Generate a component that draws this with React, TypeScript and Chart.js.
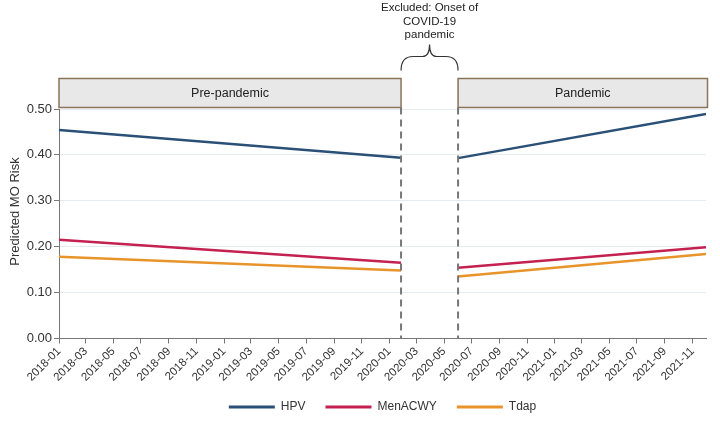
import React, { useEffect, useRef } from "react";
import { Chart, registerables } from "chart.js";

Chart.register(...registerables);

// ---------- data ----------
const seriesNames = ["HPV", "MenACWY", "Tdap"];
const seriesColors = ["#2b5077", "#c52150", "#e8942b"];
const preDates = ["2018-01-01", "2020-01-27"];
const pandemicDates = ["2020-06-01", "2021-12-01"];
const hpvPre = [0.454, 0.394];
const hpvPandemic = [0.393, 0.489];
const menacwyPre = [0.215, 0.165];
const menacwyPandemic = [0.154, 0.199];
const tdapPre = [0.178, 0.148];
const tdapPandemic = [0.135, 0.184];
const xTickLabels = [
  "2018-01", "2018-03", "2018-05", "2018-07", "2018-09", "2018-11",
  "2019-01", "2019-03", "2019-05", "2019-07", "2019-09", "2019-11",
  "2020-01", "2020-03", "2020-05", "2020-07", "2020-09", "2020-11",
  "2021-01", "2021-03", "2021-05", "2021-07", "2021-09", "2021-11",
];
const yTickValues = [0, 0.1, 0.2, 0.3, 0.4, 0.5];
const periodLabels = ["Pre-pandemic", "Pandemic"];
const excludedLabel = ["Excluded: Onset of", "COVID-19", "pandemic"];
const yTitle = "Predicted MO Risk";

const FONT = "'Liberation Sans', Arial, Helvetica, sans-serif";

const toDay = (s: string) => {
  const [y, m, d] = s.split("-").map(Number);
  return (Date.UTC(y, m - 1, d || 1) - Date.UTC(2018, 0, 1)) / 86400000;
};

const seriesPairs = [
  [hpvPre, hpvPandemic],
  [menacwyPre, menacwyPandemic],
  [tdapPre, tdapPandemic],
];

const annotationPlugin = {
  id: "periodAnnotations",
  afterDraw(chart: any) {
    const { ctx, chartArea } = chart;
    const xs = chart.scales.x;
    const ys = chart.scales.y;
    const xPreStart = xs.getPixelForValue(toDay(preDates[0]));
    const xPreEnd = xs.getPixelForValue(toDay(preDates[1]));
    const xPanStart = xs.getPixelForValue(toDay(pandemicDates[0]));
    const xPanEnd = xs.getPixelForValue(toDay(pandemicDates[1]));
    const boxBottom = ys.top - 1.5;
    const boxTop = ys.top - 30.5;
    ctx.save();
    // header boxes
    const boxes = [
      [xPreStart, xPreEnd, periodLabels[0]],
      [xPanStart, xPanEnd + 1.5, periodLabels[1]],
    ] as [number, number, string][];
    for (const [a, b, label] of boxes) {
      ctx.fillStyle = "#e8e8e8";
      ctx.fillRect(a, boxTop, b - a, boxBottom - boxTop);
      ctx.strokeStyle = "#8b735b";
      ctx.lineWidth = 1.5;
      ctx.strokeRect(a, boxTop, b - a, boxBottom - boxTop);
      ctx.fillStyle = "#222";
      ctx.font = `12.5px ${FONT}`;
      ctx.textAlign = "center";
      ctx.textBaseline = "middle";
      ctx.fillText(label, (a + b) / 2, (boxTop + boxBottom) / 2 + 0.5);
    }
    // dashed separators
    ctx.strokeStyle = "#777";
    ctx.lineWidth = 2;
    ctx.setLineDash([7, 5]);
    for (const x of [xPreEnd, xPanStart]) {
      ctx.beginPath();
      ctx.moveTo(x, boxBottom);
      ctx.lineTo(x, chartArea.bottom);
      ctx.stroke();
    }
    ctx.setLineDash([]);
    // brace
    const cx = (xPreEnd + xPanStart) / 2;
    const yb = boxTop - 8;
    const ym = yb - 14;
    const yt = yb - 26;
    ctx.strokeStyle = "#333";
    ctx.lineWidth = 1.2;
    ctx.beginPath();
    ctx.moveTo(xPreEnd, yb);
    ctx.quadraticCurveTo(xPreEnd, ym, xPreEnd + 12, ym);
    ctx.lineTo(cx - 7, ym);
    ctx.quadraticCurveTo(cx, ym, cx, yt);
    ctx.quadraticCurveTo(cx, ym, cx + 7, ym);
    ctx.lineTo(xPanStart - 12, ym);
    ctx.quadraticCurveTo(xPanStart, ym, xPanStart, yb);
    ctx.stroke();
    // excluded text
    ctx.fillStyle = "#222";
    ctx.font = `11.5px ${FONT}`;
    ctx.textAlign = "center";
    ctx.textBaseline = "alphabetic";
    excludedLabel.forEach((t, i) => ctx.fillText(t, cx, 11 + i * 13.5));
    // y title
    ctx.translate(15.5, (boxTop + chartArea.bottom) / 2 + 3);
    ctx.rotate(-Math.PI / 2);
    ctx.font = `13px ${FONT}`;
    ctx.fillStyle = "#333";
    ctx.textAlign = "center";
    ctx.textBaseline = "middle";
    ctx.fillText(yTitle, 0, 0);
    ctx.restore();
  },
};

export default function App() {
  const canvasRef = useRef<HTMLCanvasElement | null>(null);

  useEffect(() => {
    if (!canvasRef.current) return;
    const datasets = seriesNames.map((name, i) => {
      const [pre, pan] = seriesPairs[i];
      return {
        label: name,
        data: [
          { x: toDay(preDates[0]), y: pre[0] },
          { x: toDay(preDates[1]), y: pre[1] },
          { x: (toDay(preDates[1]) + toDay(pandemicDates[0])) / 2, y: null },
          { x: toDay(pandemicDates[0]), y: pan[0] },
          { x: toDay(pandemicDates[1]), y: pan[1] },
        ],
        borderColor: seriesColors[i],
        backgroundColor: seriesColors[i],
        borderWidth: 2.5,
        pointRadius: 0,
        tension: 0,
        spanGaps: false,
      };
    });
    const chart = new Chart(canvasRef.current, {
      type: "line",
      data: { datasets } as any,
      options: {
        animation: false,
        responsive: false,
        devicePixelRatio: 1,
        layout: { padding: { top: 109, right: 14, bottom: 0, left: 0 } },
        plugins: {
          tooltip: { enabled: false },
          legend: {
            position: "bottom",
            fullSize: false,
            labels: {
              boxWidth: 46,
              boxHeight: 3,
              padding: 20,
              color: "#333",
              font: { family: FONT, size: 12 },
              generateLabels: (chart: any) =>
                (Chart.defaults.plugins.legend.labels as any)
                  .generateLabels(chart)
                  .map((l: any) => ({ ...l, lineWidth: 0 })),
            },
          },
        },
        scales: {
          x: {
            type: "linear",
            min: toDay("2018-01-01"),
            max: toDay(pandemicDates[1]),
            afterBuildTicks: (scale: any) => {
              scale.ticks = xTickLabels.map((l) => ({ value: toDay(l) }));
            },
            afterFit: (scale: any) => {
              scale.height = 42.5;
            },
            ticks: {
              autoSkip: false,
              minRotation: 45,
              maxRotation: 45,
              padding: 1,
              color: "#333",
              font: { family: FONT, size: 11.5 },
              callback: (_v: any, i: number) => xTickLabels[i],
            },
            grid: {
              drawOnChartArea: false,
              drawTicks: true,
              tickLength: 5,
              tickColor: "#777",
            },
            border: { color: "#777", width: 1 },
          },
          y: {
            min: 0,
            max: 0.5,
            afterBuildTicks: (scale: any) => {
              scale.ticks = yTickValues.map((v) => ({ value: v }));
            },
            afterFit: (scale: any) => {
              scale.width = 59;
            },
            ticks: {
              padding: 2,
              color: "#333",
              font: { family: FONT, size: 13 },
              callback: (v: any) => Number(v).toFixed(2),
            },
            grid: {
              color: "#e4ebf0",
              tickColor: "#777",
              tickLength: 5,
              drawTicks: true,
            },
            border: { color: "#777", width: 1 },
          },
        },
      } as any,
      plugins: [annotationPlugin],
    });
    return () => chart.destroy();
  }, []);

  return (
    <div style={{ position: "absolute", left: 0, top: 0, width: 720, height: 423, background: "#fff" }}>
      <canvas ref={canvasRef} width={720} height={423} />
    </div>
  );
}
